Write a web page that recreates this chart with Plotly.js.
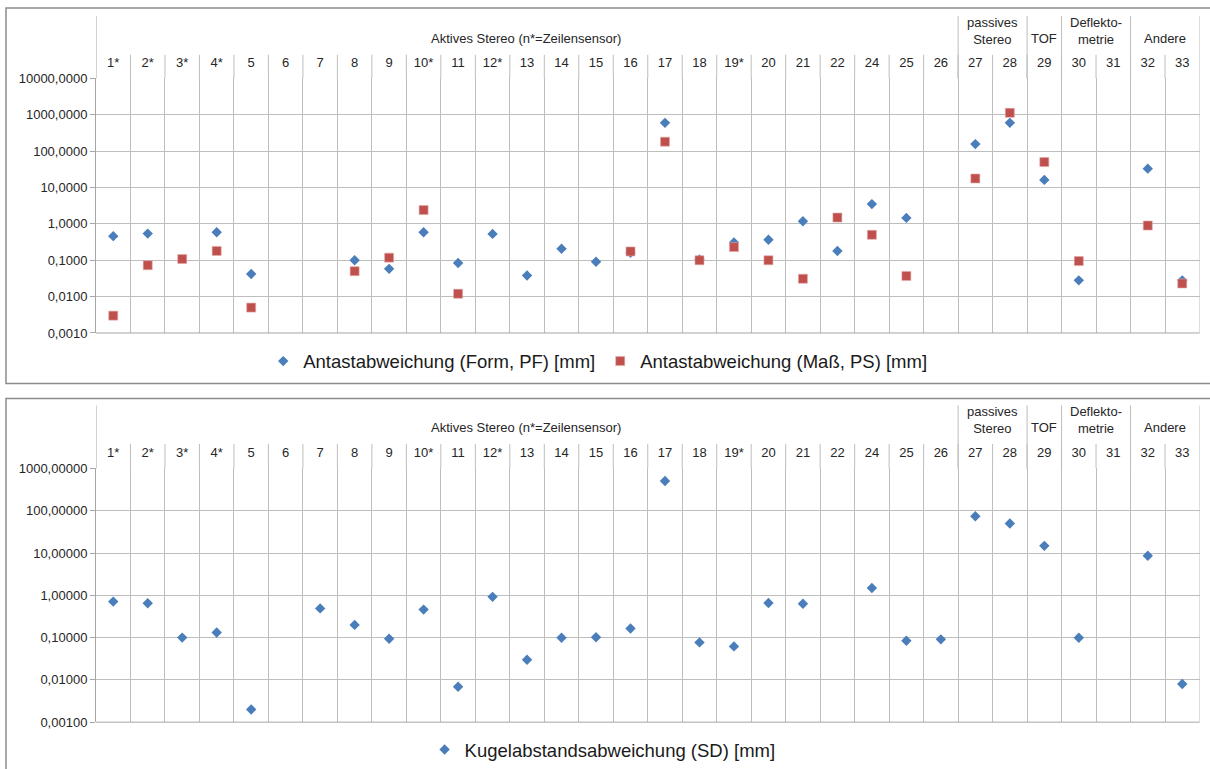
<!DOCTYPE html>
<html>
<head>
<meta charset="utf-8">
<script src="https://cdn.plot.ly/plotly-3.0.1.min.js"></script>
<style>html,body{margin:0;padding:0;background:#fff;}</style>
</head>
<body>
<div id="chart" style="width:1210px;height:769px;"></div>
<script>
const categories = ['1*','2*','3*','4*','5','6','7','8','9','10*','11','12*','13','14','15','16','17','18','19*','20','21','22','24','25','26','27','28','29','30','31','32','33'];

const formPF = [0.46,0.54,null,0.59,0.042,null,null,0.10,0.058,0.59,0.084,0.53,0.038,0.207,0.091,0.16,600,0.105,0.31,0.366,1.18,0.18,3.5,1.46,null,156,600,16.2,0.028,null,33,0.028];
const massPS = [0.003,0.073,0.108,0.18,0.005,null,null,0.05,0.118,2.4,0.012,null,null,null,null,0.175,182,0.10,0.23,0.10,0.031,1.49,0.5,0.037,null,17.7,1130,50,0.095,null,0.9,0.023];
const kugelSD = [0.71,0.65,0.10,0.132,0.002,null,0.49,0.2,0.094,0.46,0.0069,0.92,0.030,0.099,0.102,0.164,505,0.077,0.062,0.66,0.63,null,1.49,0.084,0.091,74,50,14.8,0.099,null,8.6,0.008];

const groups = [
  {text:'Aktives Stereo (n*=Zeilensensor)', center:11.97, lines:1},
  {text:'passives<br>Stereo', center:25.5, lines:2},
  {text:'TOF', center:27, lines:1},
  {text:'Deflekto-<br>metrie', center:28.5, lines:2},
  {text:'Andere', center:30.5, lines:1}
];
const groupBounds = [-0.5, 24.5, 26.5, 27.5, 29.5, 31.5];

const tickTop = [0.001,0.01,0.1,1,10,100,1000,10000];
const tickTopText = ['0,0010','0,0100','0,1000','1,0000','10,0000','100,0000','1000,0000','10000,0000'];
const tickBot = [0.001,0.01,0.1,1,10,100,1000];
const tickBotText = ['0,00100','0,01000','0,10000','1,00000','10,00000','100,00000','1000,00000'];

const H = 769, W = 1210;
const py = y => 1 - y / H;
const FONT = 'Liberation Sans, Arial, sans-serif';
const TXT = '#262626';
const GRID = '#BDBDBD';
const BLUE = '#4A7EBB';
const RED = '#C0504D';
const SMALL = 13;

const traces = [
  {x: categories, y: formPF, type:'scatter', mode:'markers', name:'Antastabweichung (Form, PF) [mm]',
   xaxis:'x', yaxis:'y', legend:'legend',
   marker:{symbol:'diamond', size:8, color:BLUE}},
  {x: categories, y: massPS, type:'scatter', mode:'markers', name:'Antastabweichung (Maß, PS) [mm]',
   xaxis:'x', yaxis:'y', legend:'legend',
   marker:{symbol:'square', size:9, color:RED, line:{color:'#E0A8A6', width:0.6}}},
  {x: categories, y: kugelSD, type:'scatter', mode:'markers', name:'Kugelabstandsabweichung (SD) [mm]',
   xaxis:'x2', yaxis:'y2', legend:'legend2',
   marker:{symbol:'diamond', size:8, color:BLUE}}
];

function xaxisCfg(anchor){
  return {
    type:'category', anchor:anchor, domain:[96/W, 1199.5/W], range:[-0.5, 31.5],
    side:'top', ticks:'', tickson:'boundaries', showgrid:true, gridcolor:GRID, gridwidth:1,
    showline:false, zeroline:false, ticklabelstandoff:8,
    tickfont:{family:FONT, size:SMALL, color:TXT}, fixedrange:true,
    categoryorder:'array', categoryarray:categories
  };
}
function yaxisCfg(anchor, dom, rng, tv, tt){
  return {
    type:'log', anchor:anchor, domain:dom, range:rng, tickvals:tv, ticktext:tt,
    showgrid:true, gridcolor:GRID, gridwidth:1, showline:true, linecolor:'#A6A6A6', linewidth:1,
    ticks:'outside', ticklen:5, tickcolor:'#A6A6A6', zeroline:false,
    tickfont:{family:FONT, size:SMALL, color:TXT}, fixedrange:true
  };
}

const shapes = [];
const annotations = [];
function header(xref, yPlotTop, yCatTop, yGroupTop, yPlotBottom, ySingle, yDouble){
  for (let k = 0; k < categories.length - 1; k++) {
    shapes.push({type:'line', xref:xref, yref:'paper', x0:k+0.5, x1:k+0.5, y0:py(yPlotTop), y1:py(yCatTop),
                 line:{color:GRID, width:1}});
  }
  groupBounds.forEach(b => {
    shapes.push({type:'line', xref:xref, yref:'paper', x0:b, x1:b, y0:py(b===31.5 ? yPlotBottom : yPlotTop), y1:py(yGroupTop),
                 line:{color: b===-0.5 ? '#A6A6A6' : GRID, width:1}});
  });
  shapes.push({type:'line', xref:'paper', yref:'paper', x0:96/W, x1:1199.5/W, y0:py(yPlotBottom), y1:py(yPlotBottom),
               line:{color:'#A6A6A6', width:1}});
  groups.forEach(g => {
    annotations.push({xref:xref, yref:'paper', x:g.center, y:py(g.lines===2 ? yDouble : ySingle),
      text:g.text, showarrow:false, xanchor:'center', yanchor:'middle',
      font:{family:FONT, size:SMALL, color:TXT}});
  });
}
header('x', 78.7, 55, 16, 334.3, 39, 31.5);
header('x2', 470.3, 445.7, 407, 725, 429.3, 421.6);

// panel frames
shapes.push({type:'rect', xref:'paper', yref:'paper', x0:6/W, x1:1.02, y0:py(385), y1:py(8),
             line:{color:'#8C8C8C', width:1.5}, layer:'below'});
shapes.push({type:'rect', xref:'paper', yref:'paper', x0:6/W, x1:1.02, y0:-0.05, y1:py(400),
             line:{color:'#8C8C8C', width:1.5}, layer:'below'});

const layout = {
  width:W, height:H, margin:{l:0, r:0, t:0, b:0},
  paper_bgcolor:'#fff', plot_bgcolor:'rgba(0,0,0,0)',
  font:{family:FONT, color:TXT},
  xaxis: xaxisCfg('y'),
  yaxis: yaxisCfg('x', [py(334.3), py(78.7)], [-3, 4], tickTop, tickTopText),
  xaxis2: xaxisCfg('y2'),
  yaxis2: yaxisCfg('x2', [py(725), py(470.3)], [-3, 3], tickBot, tickBotText),
  legend:{orientation:'h', x:0.494, xanchor:'center', y:py(363), yanchor:'middle',
          font:{family:FONT, size:18.5, color:'#1a1a1a'}, bgcolor:'rgba(0,0,0,0)', itemwidth:30},
  legend2:{orientation:'h', x:0.498, xanchor:'center', y:py(753), yanchor:'middle',
          font:{family:FONT, size:18.5, color:'#1a1a1a'}, bgcolor:'rgba(0,0,0,0)', itemwidth:30},
  showlegend:true,
  shapes:shapes,
  annotations:annotations
};

Plotly.newPlot('chart', traces, layout, {displayModeBar:false, staticPlot:true});
</script>
</body>
</html>
